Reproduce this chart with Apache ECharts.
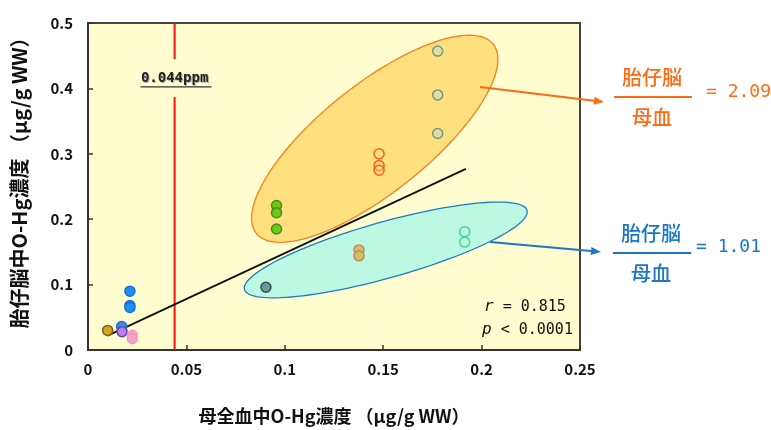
<!DOCTYPE html>
<html><head><meta charset="utf-8">
<script src="https://cdn.jsdelivr.net/npm/echarts@6/dist/echarts.min.js"></script>
<style>html,body{margin:0;padding:0;background:#fff}#c{width:771px;height:430px}</style>
</head><body><div id="c"></div>
<script>
// ---- data ----
const xTicks = [0, 0.05, 0.1, 0.15, 0.2, 0.25];
const yTicks = [0, 0.1, 0.2, 0.3, 0.4, 0.5];
const goldX = [0.010], goldY = [0.030];
const blueLowX = [0.0171], blueLowY = [0.036];
const purpleX = [0.0173], purpleY = [0.028];
const pinkX = [0.0225, 0.0225], pinkY = [0.023, 0.017];
const blueX = [0.0213, 0.0213, 0.0213], blueY = [0.090, 0.068, 0.065];
const greenX = [0.0958, 0.0958, 0.0958], greenY = [0.221, 0.210, 0.185];
const tealX = [0.0904], tealY = [0.096];
const tanX = [0.1377, 0.1377], tanY = [0.153, 0.144];
const orangeX = [0.1479, 0.1479, 0.1479], orangeY = [0.300, 0.282, 0.275];
const greyX = [0.1777, 0.1777, 0.1777], greyY = [0.457, 0.390, 0.331];
const mintX = [0.1914, 0.1914], mintY = [0.181, 0.165];
const regX = [0.010, 0.192], regY = [0.022, 0.277];
const thresholdX = 0.044;
const thresholdLabel = '0.044ppm';
const yName = '胎仔脳中O-Hg濃度 （μg/g WW）';
const xName = '母全血中O-Hg濃度 （μg/g WW）';
// ellipses: center & major-axis end (data units)
const ellOrange = [0.1457, 0.323, 0.2059, 0.4676];
const ellBlue = [0.1513, 0.153, 0.2231, 0.2135];
const ratioOrange = '= 2.09', ratioBlue = '= 1.01';

const pts = (xs, ys) => xs.map((x, i) => [x, ys[i]]);
const FONT = '"Noto Sans CJK JP", "Noto Sans", sans-serif';
const MONO = '"DejaVu Sans Mono", "Liberation Mono", monospace';

function sc(name, xs, ys, fill, border, bw) {
  return {
    type: 'scatter', name, data: pts(xs, ys), symbolSize: 10, z: 5,
    itemStyle: { color: fill, borderColor: border, borderWidth: bw || 1.5, opacity: 1 }
  };
}

function ellipseSeries(name, e, minorPx, fill, stroke) {
  return {
    type: 'custom', name, z: 1, silent: true,
    data: [e],
    renderItem: function (params, api) {
      const c = api.coord([api.value(0), api.value(1)]);
      const m = api.coord([api.value(2), api.value(3)]);
      const dx = m[0] - c[0], dy = m[1] - c[1];
      const a = Math.sqrt(dx * dx + dy * dy);
      const ux = dx / a, uy = dy / a, vx = -uy, vy = ux;
      const points = [];
      for (let k = 0; k < 120; k++) {
        const t = k / 120 * Math.PI * 2;
        const p = a * Math.cos(t), q = minorPx * Math.sin(t);
        points.push([c[0] + p * ux + q * vx, c[1] + p * uy + q * vy]);
      }
      return { type: 'polygon', shape: { points }, style: { fill, stroke, lineWidth: 1.3 } };
    }
  };
}

const chart = echarts.init(document.getElementById('c'), null, { renderer: 'canvas' });
const grid = { left: 88, top: 23, width: 492, height: 329, show: true, backgroundColor: '#FFFDCF', borderColor: '#444', borderWidth: 2 };

chart.setOption({
  animation: false,
  backgroundColor: '#ffffff',
  grid,
  xAxis: {
    type: 'value', min: 0, max: 0.25, interval: 0.05,
    axisLine: { show: true, lineStyle: { color: '#333', width: 2 } },
    axisTick: { show: true, inside: true, length: 5, lineStyle: { color: '#333', width: 1.5 } },
    splitLine: { show: false },
    axisLabel: { color: '#111', fontSize: 15, fontWeight: 'bold', fontFamily: FONT, margin: 12,
      formatter: v => String(xTicks[Math.round(v / 0.05)]) },
    name: xName, nameLocation: 'middle', nameGap: 57,
    nameTextStyle: { color: '#111', fontSize: 18, fontWeight: 'bold', fontFamily: FONT }
  },
  yAxis: {
    type: 'value', min: 0, max: 0.5, interval: 0.1,
    axisLine: { show: true, lineStyle: { color: '#333', width: 2 } },
    axisTick: { show: true, inside: true, length: 5, lineStyle: { color: '#333', width: 1.5 } },
    splitLine: { show: false },
    axisLabel: { color: '#111', fontSize: 15, fontWeight: 'bold', fontFamily: FONT, margin: 15,
      formatter: v => String(yTicks[Math.round(v / 0.1)]) }
  },
  series: [
    ellipseSeries('ellO', ellOrange, 54, '#FFE07E', '#FF7A1F'),
    ellipseSeries('ellB', ellBlue, 28, '#BDF9E2', '#1E7ACC'),
    { type: 'line', name: 'threshold', z: 3, symbol: 'none', silent: true,
      data: [[thresholdX, 0], [thresholdX, 0.387], '-', [thresholdX, 0.445], [thresholdX, 0.5]],
      connectNulls: false, lineStyle: { color: '#FF1010', width: 2 } },
    { type: 'line', name: 'reg', z: 4, symbol: 'none', silent: true,
      data: pts(regX, regY), lineStyle: { color: '#111', width: 1.8 } },
    sc('blueLow', blueLowX, blueLowY, '#2F8FE8', '#1F6FC0'),
    sc('gold', goldX, goldY, '#D2A526', '#7A5E18'),
    sc('purple', purpleX, purpleY, '#B87CF0', '#6E40A8'),
    sc('pink', pinkX, pinkY, '#F7A3C8', '#F28AB8', 1),
    sc('blue', blueX, blueY, '#1E90F5', '#1470D0'),
    sc('green', greenX, greenY, '#6CCB10', '#4C8A22'),
    sc('teal', tealX, tealY, '#6C9C9C', '#2F4F50'),
    sc('tan', tanX, tanY, '#C8C462', '#D08060'),
    sc('orange', orangeX, orangeY, 'rgba(255,224,126,0.4)', '#FF5A1A'),
    sc('grey', greyX, greyY, '#E6DC98', '#6F9888'),
    sc('mint', mintX, mintY, 'rgba(189,249,226,0.3)', '#3ED8A0')
  ]
});

// annotations
const p044 = chart.convertToPixel({ xAxisIndex: 0, yAxisIndex: 0 }, [thresholdX, 0.416]);
const orangeC = '#FF6A13', blueC = '#1A76C9';
function arrow(x1, y1, x2, y2, color) {
  const ang = Math.atan2(y2 - y1, x2 - x1), L = 10, W = 4;
  const bx = x2 - L * Math.cos(ang), by = y2 - L * Math.sin(ang);
  return [
    { type: 'line', shape: { x1, y1, x2: bx, y2: by }, style: { stroke: color, lineWidth: 2 }, z: 10 },
    { type: 'polygon', shape: { points: [[x2, y2], [bx - W * Math.sin(ang), by + W * Math.cos(ang)], [bx + W * Math.sin(ang), by - W * Math.cos(ang)]] }, style: { fill: color }, z: 10 }
  ];
}
function frac(cx, top, color, ratio, rx, ry) {
  return [
    { type: 'text', x: cx, y: top, style: { text: '胎仔脳', fill: color, font: '500 20px ' + FONT, align: 'center', verticalAlign: 'middle' }, z: 10 },
    { type: 'line', shape: { x1: cx - 38, y1: top + 20, x2: cx + 40, y2: top + 20 }, style: { stroke: color, lineWidth: 2 }, z: 10 },
    { type: 'text', x: cx, y: top + 40, style: { text: '母血', fill: color, font: '500 20px ' + FONT, align: 'center', verticalAlign: 'middle' }, z: 10 },
    { type: 'text', x: rx, y: ry, style: { text: ratio, fill: color, font: '18px ' + MONO, align: 'left', verticalAlign: 'middle' }, z: 10 }
  ];
}
const statRich = { i: { fontStyle: 'italic', fontFamily: MONO, fontSize: 16, fill: '#111' } };
chart.setOption({
  graphic: [
    { type: 'text', x: 19, y: 178, rotation: Math.PI / 2, style: { text: yName, fill: '#111', font: 'bold 20px ' + FONT, align: 'center', verticalAlign: 'middle' }, z: 10 },
    { type: 'text', x: p044[0] + 1, y: p044[1] + 1, style: { text: thresholdLabel, fill: '#aaa', font: 'bold 14px ' + MONO, align: 'center', verticalAlign: 'middle' }, z: 9 },
    { type: 'text', x: p044[0], y: p044[1], style: { text: thresholdLabel, fill: '#222', font: 'bold 14px ' + MONO, align: 'center', verticalAlign: 'middle' }, z: 10 },
    { type: 'line', shape: { x1: p044[0] - 34, y1: p044[1] + 9, x2: p044[0] + 37, y2: p044[1] + 9 }, style: { stroke: '#333', lineWidth: 1.3 }, z: 10 },
    { type: 'text', x: 484, y: 307, style: { text: '{i|r} = 0.815', rich: statRich, fill: '#111', font: '15px ' + MONO, verticalAlign: 'middle' }, z: 10 },
    { type: 'text', x: 482, y: 330, style: { text: '{i|p} < 0.0001', rich: statRich, fill: '#111', font: '15px ' + MONO, verticalAlign: 'middle' }, z: 10 },
    ...arrow(480, 87, 604, 102, orangeC),
    ...arrow(490, 242, 601, 252, blueC),
    ...frac(652, 77, orangeC, ratioOrange, 706, 92),
    ...frac(651, 233, blueC, ratioBlue, 696, 247)
  ]
});
</script></body></html>
